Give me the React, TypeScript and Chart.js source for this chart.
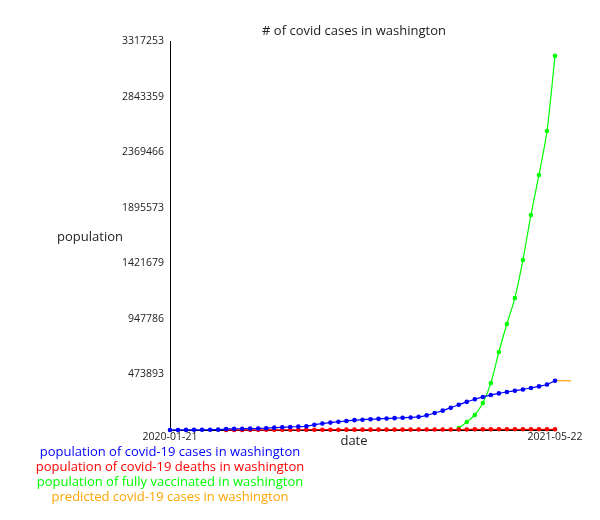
import { useEffect, useRef } from 'react';
import { Chart, registerables } from 'chart.js';

Chart.register(...registerables);

const dates = ['2020-01-21', '2021-05-22'];
const idx = Array.from({ length: 49 }, (_, i) => i);

const cases = [
  0, 500, 1000, 1500, 2000, 2500, 3000, 9000, 10000, 11000, 12000, 13000, 15000,
  20000, 23000, 26000, 29000, 32000, 45000, 55000, 63000, 70000, 77000, 84000, 88000,
  92000, 95000, 98000, 101000, 104000, 107000, 112000, 125000, 145000, 165000,
  190000, 215000, 240000, 262000, 282000, 298000, 312000, 324000, 335000, 346000,
  358000, 372000, 388000, 420000,
];
const deaths = [
  null, null, null, null, null, null, null, 500, 800, 1000, 1200, 1400, 1600, 1800,
  2000, 2100, 2200, 2300, 2400, 2500, 2600, 2700, 2800, 2900, 3000, 3100, 3200,
  3300, 3400, 3500, 3600, 3700, 3800, 3900, 4000, 4100, 4300, 4500, 5500, 5600,
  5700, 5800, 5800, 5900, 5900, 6000, 6000, 6100, 6100,
];
const vaccinated = [
  ...Array(36).fill(null),
  17000, 68000, 128000, 230000, 400000, 665000, 904000, 1126000, 1450000,
  1834000, 2175000, 2550000, 3190000,
];
const predicted = [420000, 420000];
const predictedX = [48, 50];

const yMax = 3317253;
const yTicks = [0, 473893, 947786, 1421679, 1895573, 2369466, 2843359, 3317253];

const legendItems = [
  ['population of covid-19 cases in washington', '#0000ff'],
  ['population of covid-19 deaths in washington', '#ff0000'],
  ['population of fully vaccinated in washington', '#00ff00'],
  ['predicted covid-19 cases in washington', '#ffa500'],
];

const FONT = '"Open Sans", sans-serif';

const textPlugin = {
  id: 'texts',
  afterDraw(chart: any) {
    const ctx = chart.ctx;
    ctx.save();
    ctx.textAlign = 'center';
    ctx.textBaseline = 'middle';
    ctx.fillStyle = '#222';
    ctx.font = `13px ${FONT}`;
    ctx.fillText('# of covid cases in washington', 354, 31);
    ctx.fillText('population', 90, 237);
    ctx.fillText('date', 354, 441);
    legendItems.forEach(([t, c], i) => {
      ctx.fillStyle = c;
      ctx.fillText(t, 170, 452 + i * 15);
    });
    ctx.restore();
  },
};

export default function App() {
  const ref = useRef<HTMLCanvasElement>(null);
  useEffect(() => {
    if (!ref.current) return;
    const pts = (arr: (number | null)[]) => arr.map((y, i) => ({ x: idx[i], y }));
    const line = (label: string, data: any[], color: string, radius = 1.7) => ({
      label,
      data,
      borderColor: color,
      backgroundColor: color,
      borderWidth: 1.2,
      pointRadius: radius,
      pointHoverRadius: radius,
      tension: 0.3,
      spanGaps: false,
      clip: false as any,
    });
    const chart = new Chart(ref.current, {
      type: 'line',
      data: {
        datasets: [
          line('cases', pts(cases), '#0000ff'),
          line('deaths', pts(deaths), '#ff0000'),
          line('vaccinated', pts(vaccinated), '#00ff00'),
          line('predicted', predicted.map((y, i) => ({ x: predictedX[i], y })), '#ffa500', 0),
        ],
      },
      options: {
        animation: false,
        responsive: false,
        layout: { padding: { left: 0, right: 45, top: 41, bottom: 70 } },
        plugins: { legend: { display: false }, tooltip: { enabled: false } },
        scales: {
          x: {
            type: 'linear',
            min: 0,
            max: 48,
            grid: { display: false, drawTicks: false },
            border: { color: '#000' },
            afterBuildTicks: (s: any) => { s.ticks = [{ value: 0 }, { value: 48 }]; },
            afterFit: (s: any) => { s.height = 20; },
            ticks: {
              autoSkip: false,
              maxRotation: 0,
              color: '#222',
              font: { family: FONT, size: 10.5 },
              padding: 1,
              callback: (v: any) => (v === 0 ? dates[0] : dates[1]),
            },
          },
          y: {
            min: 0,
            max: yMax,
            grid: { display: false, drawTicks: false },
            border: { color: '#000' },
            afterBuildTicks: (s: any) => { s.ticks = yTicks.map((value) => ({ value })); },
            afterFit: (s: any) => { s.width = 170; },
            ticks: {
              color: '#222',
              font: { family: FONT, size: 10.5 },
              padding: 6,
              callback: (v: any) => (v === 0 ? '' : String(v)),
            },
          },
        },
      },
      plugins: [textPlugin],
    });
    return () => chart.destroy();
  }, []);
  return (
    <div style={{ position: 'fixed', left: 0, top: 0, width: 600, height: 520, background: '#fff' }}>
      <canvas ref={ref} width={600} height={520} />
    </div>
  );
}
